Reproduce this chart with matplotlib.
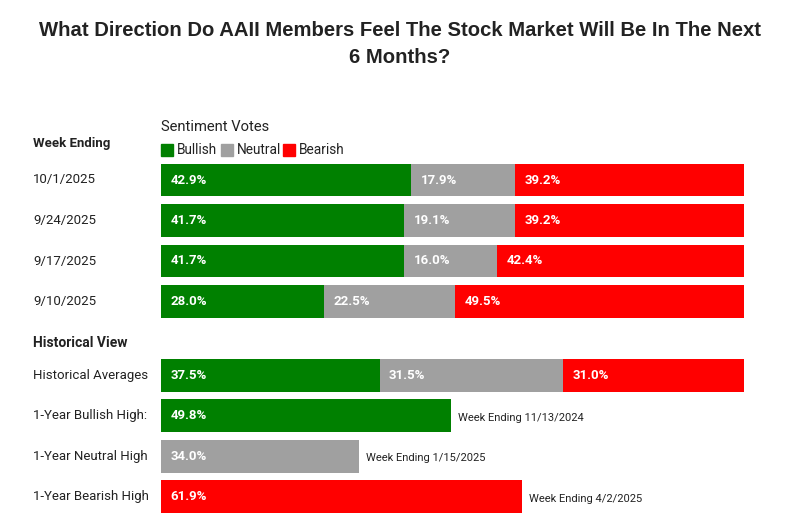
import matplotlib.pyplot as plt
import matplotlib.patches as mpatches

# weekly sentiment data
weeks = ["10/1/2025", "9/24/2025", "9/17/2025", "9/10/2025"]
bullish = [42.9, 41.7, 41.7, 28.0]
neutral = [17.9, 19.1, 16.0, 22.5]
bearish = [39.2, 39.2, 42.4, 49.5]

# historical view
hist_avg = [37.5, 31.5, 31.0]
high_labels = ["1-Year Bullish High:", "1-Year Neutral High", "1-Year Bearish High"]
high_values = [49.8, 34.0, 61.9]
high_dates = ["Week Ending 11/13/2024", "Week Ending 1/15/2025", "Week Ending 4/2/2025"]

GREEN = "#008000"
GRAY = "#a0a0a0"
RED = "#ff0000"
TXT = "#222222"
FONT = "Roboto"

W, H = 800, 526
fig = plt.figure(figsize=(W / 100, H / 100), dpi=100)

# row layout (in row units)
week_pos = [0, 1, 2, 3]
hist_pos = 4.82
high_pos = [5.82, 6.82, 7.82]
bh = 0.81
unit = 40.5
y0_px = 180
ylim_top, ylim_bot = -0.5, 8.3
top_px = y0_px + ylim_top * unit
bot_px = y0_px + ylim_bot * unit
ax = fig.add_axes([161 / W, 1 - bot_px / H, (744 - 161) / W, (bot_px - top_px) / H])
ax.set_xlim(0, 100)
ax.set_ylim(ylim_bot, ylim_top)
ax.axis("off")

def label_in(x, y, v):
    ax.text(x + 1.6, y, f"{v:.1f}%", color="white", fontweight="bold",
            fontsize=9.5, va="center", ha="left", family=FONT)

for y, b, n, r in zip(week_pos, bullish, neutral, bearish):
    ax.barh(y, b, height=bh, color=GREEN, left=0)
    ax.barh(y, n, height=bh, color=GRAY, left=b)
    ax.barh(y, r, height=bh, color=RED, left=b + n)
    label_in(0, y, b)
    label_in(b, y, n)
    label_in(b + n, y, r)

b, n, r = hist_avg
ax.barh(hist_pos, b, height=bh, color=GREEN)
ax.barh(hist_pos, n, height=bh, color=GRAY, left=b)
ax.barh(hist_pos, r, height=bh, color=RED, left=b + n)
label_in(0, hist_pos, b)
label_in(b, hist_pos, n)
label_in(b + n, hist_pos, r)

for y, v, c, d in zip(high_pos, high_values, [GREEN, GRAY, RED], high_dates):
    ax.barh(y, v, height=bh, color=c)
    label_in(0, y, v)
    ax.text(v + 1.2, y + 0.05, d, color=TXT, fontsize=8, va="center", ha="left", family=FONT)

# row labels on the left
lx = 33 / W
def fy(py):
    return 1 - py / H

for y, w in zip(week_pos, weeks):
    fig.text(lx, fy(y0_px + y * unit), w, fontsize=9.5, va="center", color=TXT, family=FONT)
fig.text(lx, fy(y0_px + hist_pos * unit), "Historical Averages", fontsize=9.5, va="center", color=TXT, family=FONT)
for y, t in zip(high_pos, high_labels):
    fig.text(lx, fy(y0_px + y * unit), t, fontsize=9.5, va="center", color=TXT, family=FONT)

fig.text(lx, fy(143), "Week Ending", fontsize=9.5, fontweight="bold", va="center", color=TXT, family=FONT)
fig.text(lx, fy(343), "Historical View", fontsize=10, fontweight="bold", va="center", color=TXT, family=FONT)

# legend
fig.text(161 / W, fy(127), "Sentiment Votes", fontsize=10.6, va="center", color=TXT, family=FONT)
lx0 = 161
for name, c, w in [("Bullish", GREEN, 60), ("Neutral", GRAY, 62), ("Bearish", RED, 60)]:
    fig.patches.append(mpatches.Rectangle((lx0 / W, fy(156)), 12 / W, 12 / H,
                                          transform=fig.transFigure, color=c))
    fig.text((lx0 + 16) / W, fy(149.5), name, fontsize=9.8, va="center", color=TXT, family=FONT)
    lx0 += w

fig.text(0.5, fy(44), "What Direction Do AAII Members Feel The Stock Market Will Be In The Next\n6 Months?",
         ha="center", va="center", fontsize=14.6, fontweight="bold", color="#222222",
         family="Liberation Sans", linespacing=1.55)

fig.savefig("out.png", dpi=100, facecolor="white")
